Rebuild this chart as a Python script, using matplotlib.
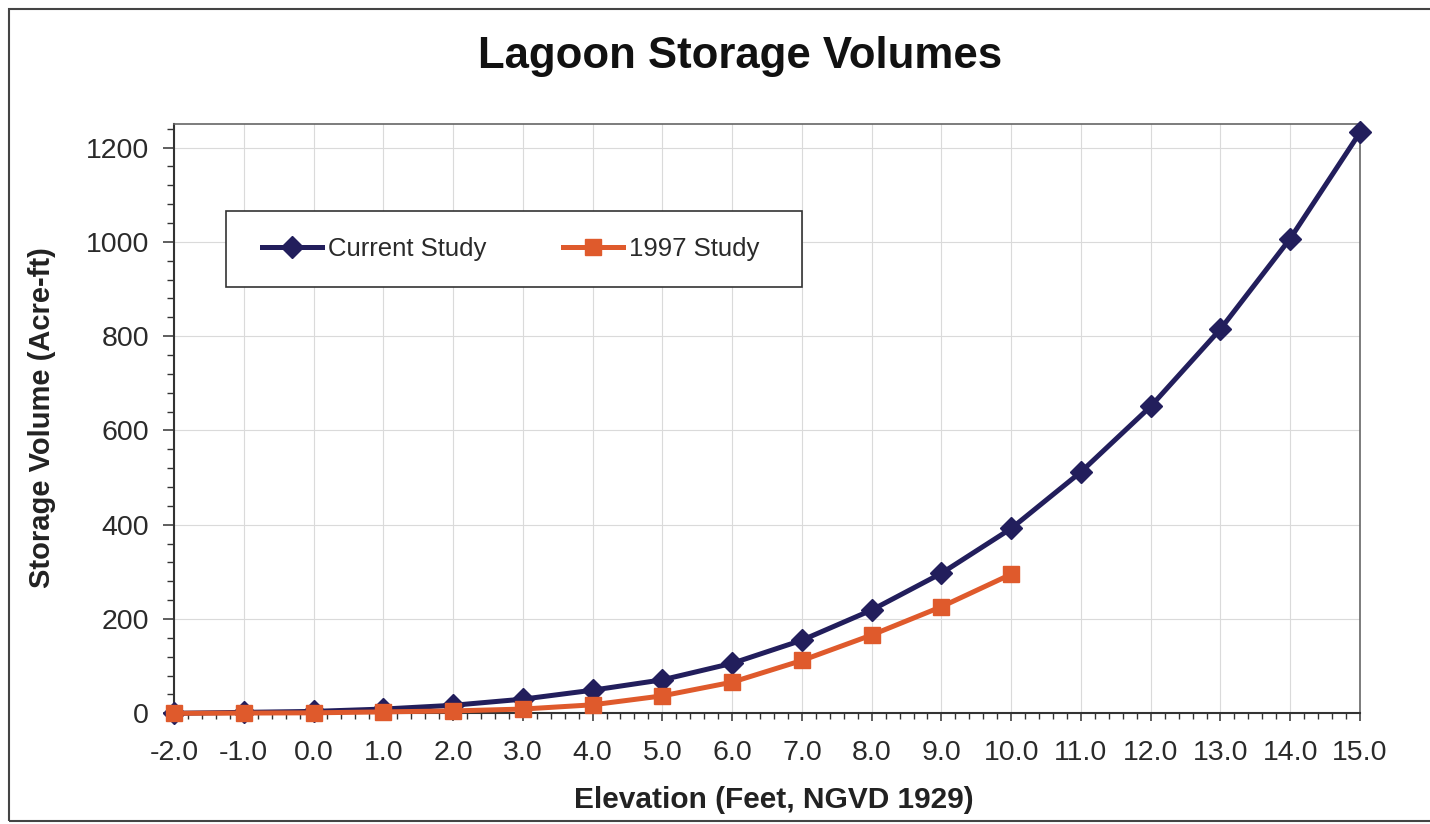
import numpy as np
import matplotlib
matplotlib.use('Agg')
import matplotlib.pyplot as plt
from matplotlib.patches import Rectangle
from matplotlib.ticker import MultipleLocator, FormatStrFormatter

plt.rcParams['font.family'] = ['Liberation Sans', 'DejaVu Sans']

# elevation (ft, NGVD 1929) and storage volume (acre-ft)
elev = [-2, -1, 0, 1, 2, 3, 4, 5, 6, 7, 8, 9, 10, 11, 12, 13, 14, 15]
vol_current = [0, 2, 4, 9, 17, 30, 49, 71, 106, 155, 219, 297, 392,
               512, 651, 815, 1007, 1232]
elev_1997 = [-2, -1, 0, 1, 2, 3, 4, 5, 6, 7, 8, 9, 10]
vol_1997 = [0, 0.5, 1, 3, 5, 9, 18, 37, 66, 112, 166, 226, 295]

navy = '#221e5c'
orange = '#df5a2c'
W, H = 1430, 824

fig = plt.figure(figsize=(W / 100, H / 100), dpi=100)
ax = fig.add_axes([174 / W, 1 - 713.3 / H, (1360 - 174) / W, (713.3 - 124) / H])

ax.plot(elev, vol_current, color=navy, lw=3.6, marker='D', ms=11,
        mec=navy, clip_on=False, zorder=3, label='Current Study')
ax.plot(elev_1997, vol_1997, color=orange, lw=3.6, marker='s', ms=11,
        mec=orange, clip_on=False, zorder=4, label='1997 Study')

ax.set_xlim(-2, 15)
ax.set_ylim(0, 1250)
ax.xaxis.set_major_locator(MultipleLocator(1))
ax.xaxis.set_minor_locator(MultipleLocator(0.2))
ax.xaxis.set_major_formatter(FormatStrFormatter('%.1f'))
ax.yaxis.set_major_locator(MultipleLocator(200))
ax.yaxis.set_minor_locator(MultipleLocator(40))
ax.grid(True, which='major', color='#dadada', lw=0.8)
ax.set_axisbelow(True)

ax.tick_params(axis='x', which='major', length=6, width=1.1, color='#333333',
               labelsize=20.5, labelcolor='#2a2a2a', pad=13)
ax.tick_params(axis='x', which='minor', length=4, width=1.0, color='#333333')
ax.tick_params(axis='y', which='major', length=8, width=1.1, color='#333333',
               labelsize=20.5, labelcolor='#2a2a2a', pad=10)
ax.tick_params(axis='y', which='minor', length=5, width=1.0, color='#333333')

for side in ['left', 'bottom']:
    ax.spines[side].set_color('#333333')
    ax.spines[side].set_linewidth(1.5)
for side in ['top', 'right']:
    ax.spines[side].set_color('#666666')
    ax.spines[side].set_linewidth(1.2)

# legend box with white fill over the grid
ax.add_patch(Rectangle((226 / W, 1 - 287 / H), (802 - 226) / W, (287 - 211) / H,
                       transform=fig.transFigure, facecolor='white',
                       edgecolor='#333333', lw=1.2, zorder=5, clip_on=False))
handles, labels = ax.get_legend_handles_labels()
leg = fig.legend(handles, labels, loc='center left',
                 bbox_to_anchor=(262 / W, 1 - 249 / H),
                 ncol=2, frameon=False, fontsize=18.5, borderpad=0,
                 borderaxespad=0, handlelength=2.35, handletextpad=0.2,
                 columnspacing=3.0)
leg.set_zorder(6)
for t in leg.get_texts():
    t.set_color('#2a2a2a')

fig.text(740 / W, 1 - 68 / H, 'Lagoon Storage Volumes', ha='center',
         va='baseline', fontsize=31.5, fontweight='bold', color='#111111')
fig.text(774 / W, 1 - 808 / H, 'Elevation (Feet, NGVD 1929)', ha='center',
         va='baseline', fontsize=21.5, fontweight='bold', color='#222222')
fig.text(42 / W, 1 - 418 / H, 'Storage Volume (Acre-ft)', ha='center',
         va='center', rotation=90, fontsize=21, fontweight='bold',
         color='#222222')

# outer chart border
fig.patches.append(Rectangle((9 / W, 1 - 821 / H), (W + 10) / W, (821 - 9) / H,
                             transform=fig.transFigure, fill=False,
                             edgecolor='#444444', lw=1.5))

fig.savefig('out.png', dpi=100)
